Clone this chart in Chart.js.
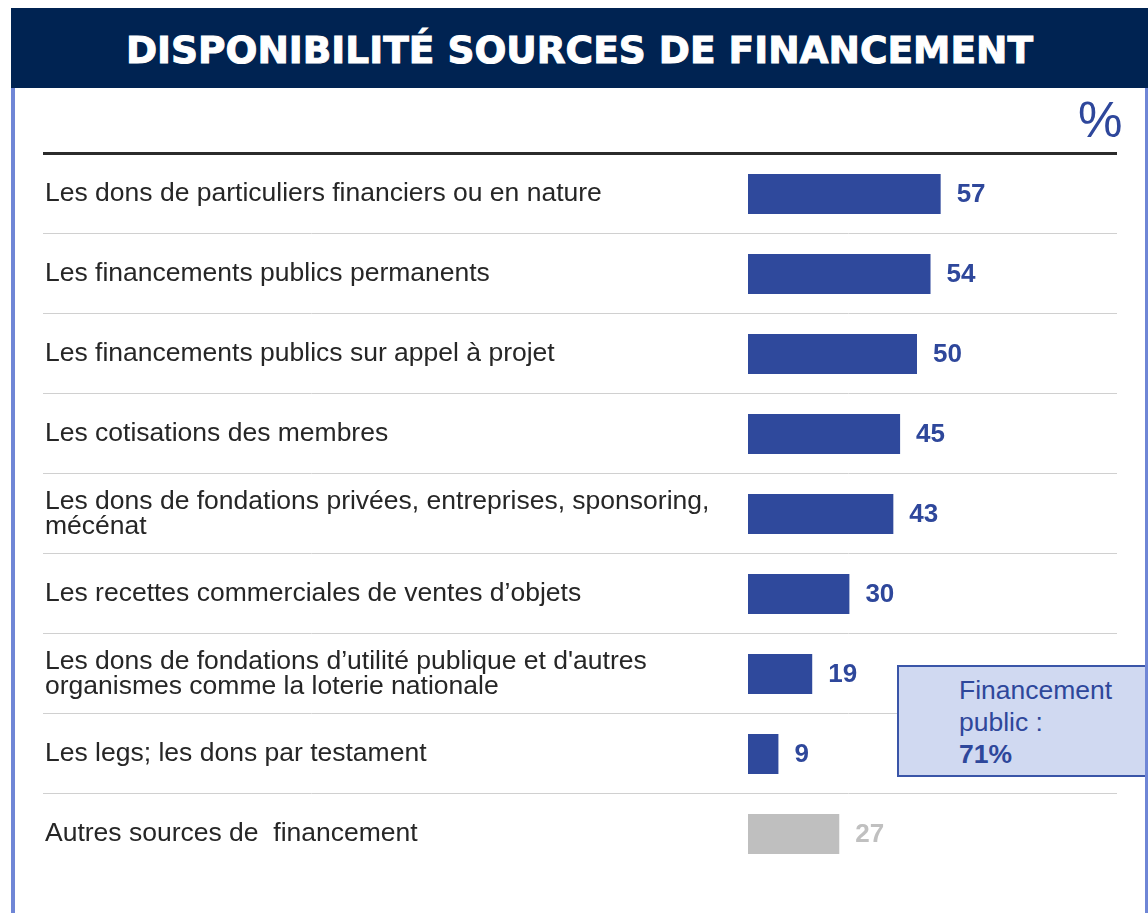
<!DOCTYPE html>
<html lang="fr">
<head>
<meta charset="utf-8">
<title>Disponibilité sources de financement</title>
<script src="https://cdn.jsdelivr.net/npm/chart.js@4/dist/chart.umd.min.js"></script>
<style>
  html, body { margin: 0; padding: 0; background: #fff; }
  body { width: 1148px; height: 913px; position: relative; overflow: hidden; font-family: "Liberation Sans", Arial, sans-serif; }
  #wrap { position: absolute; left: 0; top: 0; width: 1148px; height: 913px; }
  .titlebar { position: absolute; left: 11px; top: 8px; width: 1137px; height: 80px; background: #002352;
    color: #fff; text-align: center; line-height: 84px; font-family: "DejaVu Sans", sans-serif;
    font-weight: bold; font-size: 37.5px; -webkit-text-stroke: 1px #fff; }
  .border-l { position: absolute; left: 11px; top: 88px; width: 4px; height: 825px; background: #6f86d6; }
  .border-r { position: absolute; left: 1145px; top: 88px; width: 3px; height: 825px; background: #6f86d6; }
  .pct { position: absolute; left: 1078px; top: 90px; font-size: 50px; line-height: 60px; color: #2e479b; }
  .note { position: absolute; left: 897px; top: 665px; width: 249px; height: 108px; background: #d0d9f1;
    border: 2px solid #3a55a8; color: #2e479b; font-size: 26.5px; line-height: 32px; box-sizing: content-box; }
  .note div { padding-left: 60px; }
  .note .first { padding-top: 7px; }
</style>
</head>
<body>
<div id="wrap"><canvas id="chart"></canvas></div>
<div class="titlebar">DISPONIBILITÉ SOURCES DE FINANCEMENT</div>
<div class="border-l"></div>
<div class="pct">%</div>
<div class="note"><div class="first">Financement</div><div>public :</div><div><b>71%</b></div></div>
<div class="border-r"></div>
<script>
// catégories et valeurs (%)
const categories = [
  'Les dons de particuliers financiers ou en nature',
  'Les financements publics permanents',
  'Les financements publics sur appel à projet',
  'Les cotisations des membres',
  ['Les dons de fondations privées, entreprises, sponsoring,', 'mécénat'],
  'Les recettes commerciales de ventes d\u2019objets',
  ['Les dons de fondations d\u2019utilité publique et d\'autres', 'organismes comme la loterie nationale'],
  'Les legs; les dons par testament',
  'Autres sources de  financement'
];
const values = [57, 54, 50, 45, 43, 30, 19, 9, 27];
const xTicks = [0, 100];

const BLUE = '#2f499c';
const GREY = '#bfbfbf';
const isOther = i => i === categories.length - 1;

// lignes de séparation + ligne noire du haut
const rowLines = {
  id: 'rowLines',
  beforeDatasetsDraw(chart) {
    const {ctx, chartArea, scales: {y}} = chart;
    ctx.save();
    ctx.strokeStyle = '#d0d0d0';
    ctx.lineWidth = 1;
    for (let i = 0; i < categories.length - 1; i++) {
      const yy = Math.round((y.getPixelForValue(i) + y.getPixelForValue(i + 1)) / 2) - 0.5;
      ctx.beginPath(); ctx.moveTo(43, yy); ctx.lineTo(1117, yy); ctx.stroke();
    }
    ctx.strokeStyle = '#2b2b2b';
    ctx.lineWidth = 3;
    ctx.beginPath(); ctx.moveTo(43, chartArea.top - 0.5); ctx.lineTo(1117, chartArea.top - 0.5); ctx.stroke();
    ctx.restore();
  }
};

// valeurs à droite des barres
const valueLabels = {
  id: 'valueLabels',
  afterDatasetsDraw(chart) {
    const {ctx} = chart;
    const meta = chart.getDatasetMeta(0);
    ctx.save();
    ctx.font = "bold 26px 'Liberation Sans', Arial, sans-serif";
    ctx.textBaseline = 'middle';
    ctx.textAlign = 'left';
    meta.data.forEach((bar, i) => {
      ctx.fillStyle = isOther(i) ? '#c0c0c0' : '#2e479b';
      ctx.fillText(String(values[i]), bar.x + 16, bar.y + 1);
    });
    ctx.restore();
  }
};

new Chart(document.getElementById('chart'), {
  type: 'bar',
  data: {
    labels: categories,
    datasets: [{
      data: values,
      backgroundColor: ctx => isOther(ctx.dataIndex) ? GREY : BLUE,
      borderWidth: 0,
      categoryPercentage: 1,
      barPercentage: 0.5
    }]
  },
  options: {
    indexAxis: 'y',
    responsive: true,
    maintainAspectRatio: false,
    animation: false,
    layout: {padding: {left: 45, right: 62, top: 154, bottom: 39}},
    plugins: {legend: {display: false}, tooltip: {enabled: false}},
    scales: {
      x: {
        display: false,
        min: xTicks[0], max: xTicks[1]
      },
      y: {
        border: {display: false},
        grid: {display: false, drawTicks: false},
        afterFit: scale => { scale.width = 703; },
        ticks: {
          crossAlign: 'far',
          padding: 0,
          color: '#262626',
          font: {family: "'Liberation Sans', Arial, sans-serif", size: 26.5, lineHeight: 0.95}
        }
      }
    }
  },
  plugins: [rowLines, valueLabels]
});
</script>
</body>
</html>
